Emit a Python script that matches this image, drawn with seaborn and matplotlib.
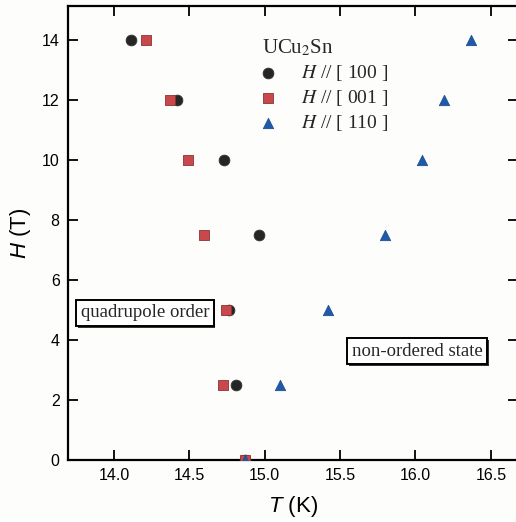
import pandas as pd
import matplotlib.pyplot as plt
import matplotlib.patheffects as pe
import seaborn as sns

# field values (T) and transition temperatures (K)
field_100 = [14, 12, 10, 7.5, 5, 2.5, 0]
temp_100 = [14.11, 14.42, 14.73, 14.96, 14.76, 14.81, 14.87]
field_001 = [14, 12, 10, 7.5, 5, 2.5, 0]
temp_001 = [14.21, 14.37, 14.49, 14.60, 14.74, 14.72, 14.87]
field_110 = [14, 12, 10, 7.5, 5, 2.5, 0]
temp_110 = [16.37, 16.19, 16.04, 15.80, 15.42, 15.10, 14.87]

labels = ["$H$ // [ 100 ]", "$H$ // [ 001 ]", "$H$ // [ 110 ]"]
x_ticks = [14.0, 14.5, 15.0, 15.5, 16.0, 16.5]
y_ticks = [0, 2, 4, 6, 8, 10, 12, 14]

frames = []
for lab, t, h in zip(labels, [temp_100, temp_001, temp_110], [field_100, field_001, field_110]):
    frames.append(pd.DataFrame({"T": t, "H": h, "dir": lab}))
df = pd.concat(frames, ignore_index=True)

sns.set_style("ticks")
plt.rcParams["font.family"] = ["Liberation Sans", "DejaVu Sans"]
plt.rcParams["mathtext.fontset"] = "custom"
plt.rcParams["mathtext.it"] = "Liberation Sans:italic"
plt.rcParams["mathtext.rm"] = "Liberation Sans"

fig = plt.figure(figsize=(5.16, 5.22), dpi=100)
fig.patch.set_facecolor("#fdfdfb")
ax = fig.add_axes([68 / 516, 62 / 522, 450 / 516, 454 / 522])
ax.set_facecolor("#fdfdfb")

palette = {labels[0]: "#262626", labels[1]: "#c9484b", labels[2]: "#1f5aa8"}
markers = {labels[0]: "o", labels[1]: "s", labels[2]: "^"}
sizes = {labels[0]: 60, labels[1]: 48, labels[2]: 55}
edges = {labels[0]: "#333333", labels[1]: "#8a3336", labels[2]: "#1f4f90"}

for lab in labels:
    sub = df[df["dir"] == lab]
    sns.scatterplot(data=sub, x="T", y="H", color=palette[lab], marker=markers[lab],
                    s=sizes[lab], edgecolor=edges[lab], linewidth=0.6,
                    label=lab, ax=ax, zorder=3)

ax.set_xlim(13.695, 16.68)
ax.set_ylim(0, 15.13)
ax.set_xticks(x_ticks)
ax.set_xticklabels([f"{v:.1f}" for v in x_ticks])
ax.set_yticks(y_ticks)
ax.tick_params(direction="in", length=7, width=1.3, labelsize=11.5,
               top=True, right=True, pad=6, color="black", labelcolor="black")
for sp in ax.spines.values():
    sp.set_linewidth(1.6)
    sp.set_color("black")

xl = ax.set_xlabel("$T$ (K)", fontsize=16, labelpad=8, color="black")
yl = ax.set_ylabel("$H$ (T)", fontsize=16, labelpad=6, color="black")
xl.set_math_fontfamily("custom")
yl.set_math_fontfamily("custom")

leg = ax.legend(title="UCu$_2$Sn", loc="upper left", bbox_to_anchor=(0.396, 0.965),
                frameon=False, alignment="left", handletextpad=1.4,
                labelspacing=0.25, borderpad=0.3, handlelength=0.6,
                prop={"family": "Liberation Serif", "size": 14},
                title_fontproperties={"family": "Liberation Serif", "size": 15})
for t in leg.get_texts():
    t.set_math_fontfamily("stix")
leg.get_title().set_math_fontfamily("stix")

box = dict(boxstyle="square,pad=0.25", fc="white", ec="black", lw=1.4)
shadow = [pe.withSimplePatchShadow(offset=(1.2, -1.2), shadow_rgbFace="black", alpha=0.8)]
for tx, ty, s in [(14.205, 4.9, "quadrupole order"), (16.01, 3.63, "non-ordered state")]:
    t = ax.text(tx, ty, s, ha="center", va="center", family="Liberation Serif",
                fontsize=13.5, bbox=box, zorder=4)
    t.get_bbox_patch().set_path_effects(shadow)

fig.savefig("out.png", dpi=100, facecolor=fig.get_facecolor())
